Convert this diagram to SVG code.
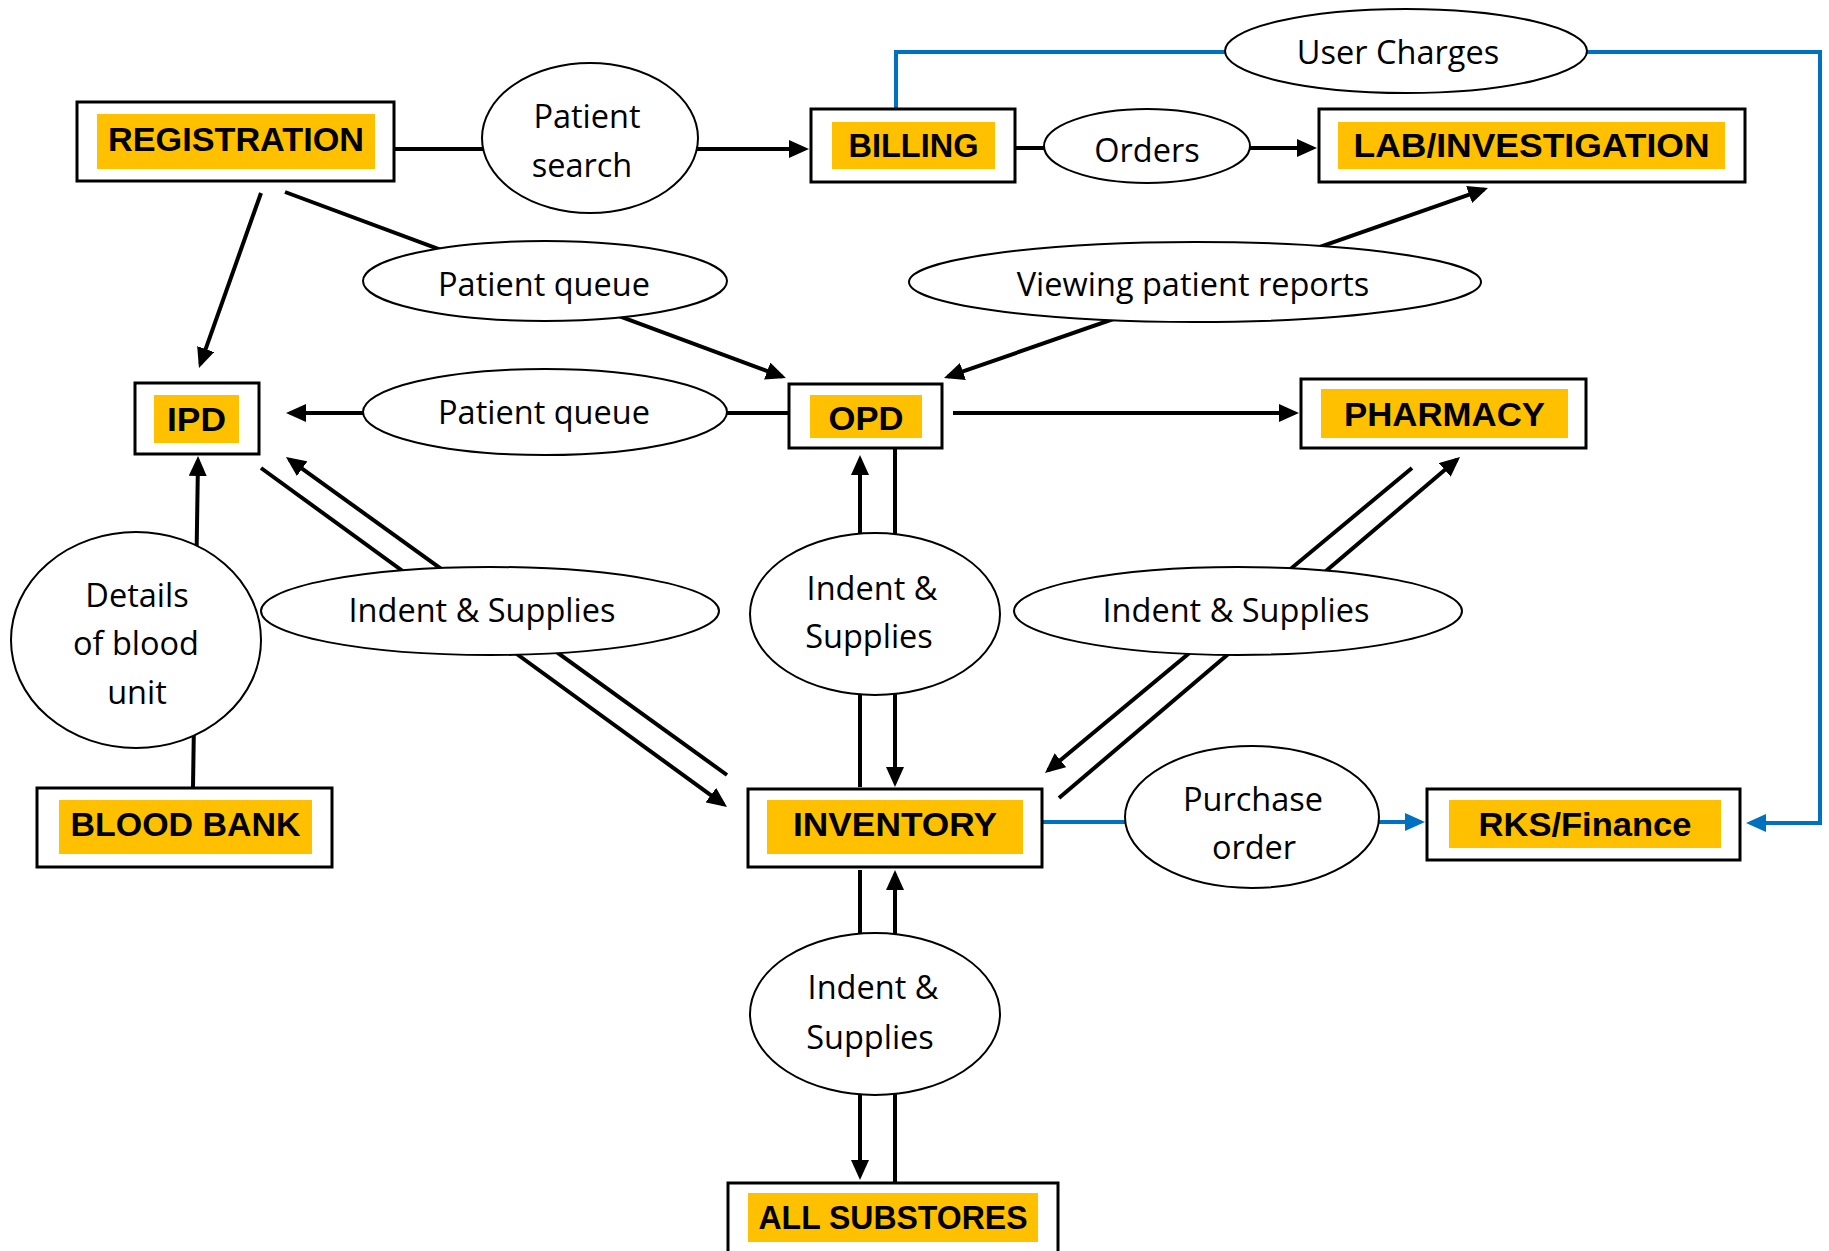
<svg xmlns="http://www.w3.org/2000/svg" width="1829" height="1251" viewBox="0 0 1829 1251">
<style>
.box{fill:#fff;stroke:#000;stroke-width:3}
.hl{fill:#FFC000}
.bt{font-family:"Liberation Sans",Arial,sans-serif;font-weight:bold;font-size:33px;fill:#000;text-anchor:middle}
.el{fill:#fff;stroke:#000;stroke-width:2}
.lt{font-family:"Open Sans","DejaVu Sans",sans-serif;font-size:32.5px;fill:#000;text-anchor:middle}
.c{stroke:#000;stroke-width:4;fill:none}
.b{stroke:#0070C0;stroke-width:4;fill:none}
</style>
<defs>
<marker id="ak" markerUnits="userSpaceOnUse" markerWidth="20" markerHeight="18" viewBox="0 0 20 18" refX="16" refY="9" orient="auto"><path d="M0,0L20,9L0,18z" fill="#000"/></marker>
<marker id="ab" markerUnits="userSpaceOnUse" markerWidth="20" markerHeight="18" viewBox="0 0 20 18" refX="16" refY="9" orient="auto"><path d="M0,0L20,9L0,18z" fill="#0070C0"/></marker>
</defs>
<rect width="1829" height="1251" fill="#fff"/>
<g id="connectors">
<line class="c" x1="395" y1="149" x2="805" y2="149" marker-end="url(#ak)"/>
<line class="c" x1="1016" y1="148" x2="1313" y2="148" marker-end="url(#ak)"/>
<line class="c" x1="261" y1="193" x2="200.3" y2="364.2" marker-end="url(#ak)"/>
<line class="c" x1="285" y1="192" x2="782.2" y2="376.6" marker-end="url(#ak)"/>
<line class="c" x1="1217" y1="283" x2="1484.2" y2="189.3" marker-end="url(#ak)"/>
<line class="c" x1="1217" y1="283" x2="947.8" y2="376.7" marker-end="url(#ak)"/>
<line class="c" x1="788" y1="413" x2="290" y2="413" marker-end="url(#ak)"/>
<line class="c" x1="953" y1="413" x2="1295" y2="413" marker-end="url(#ak)"/>
<line class="c" x1="193" y1="787" x2="198" y2="460" marker-end="url(#ak)"/>
<line class="c" x1="261" y1="468" x2="723.8" y2="804.6" marker-end="url(#ak)"/>
<line class="c" x1="727" y1="775" x2="289.2" y2="459.3" marker-end="url(#ak)"/>
<line class="c" x1="860" y1="787" x2="860" y2="459" marker-end="url(#ak)"/>
<line class="c" x1="895" y1="449" x2="895" y2="783" marker-end="url(#ak)"/>
<line class="c" x1="860" y1="870" x2="860" y2="1176" marker-end="url(#ak)"/>
<line class="c" x1="895" y1="1182" x2="895" y2="874" marker-end="url(#ak)"/>
<line class="c" x1="1059" y1="798" x2="1457" y2="459.6" marker-end="url(#ak)"/>
<line class="c" x1="1412" y1="468" x2="1048.1" y2="770.4" marker-end="url(#ak)"/>
<polyline class="b" points="896,108 896,52 1820,52 1820,823 1750,823" marker-end="url(#ab)"/>
<line class="b" x1="1043" y1="822" x2="1421" y2="822" marker-end="url(#ab)"/>
</g>
<g id="registration"><rect class="box" x="77" y="102" width="317" height="79"/><rect class="hl" x="97" y="114" width="278" height="55"/><text class="bt" x="236" y="151" textLength="256" lengthAdjust="spacingAndGlyphs">REGISTRATION</text></g>
<g id="billing"><rect class="box" x="811" y="109" width="204" height="73"/><rect class="hl" x="832" y="122" width="163" height="47"/><text class="bt" x="913.5" y="157" textLength="130" lengthAdjust="spacingAndGlyphs">BILLING</text></g>
<g id="lab"><rect class="box" x="1319" y="109" width="426" height="73"/><rect class="hl" x="1338" y="122" width="387" height="47"/><text class="bt" x="1531.5" y="157" textLength="356" lengthAdjust="spacingAndGlyphs">LAB/INVESTIGATION</text></g>
<g id="ipd"><rect class="box" x="135" y="383" width="124" height="71"/><rect class="hl" x="154" y="395" width="85" height="48"/><text class="bt" x="196.5" y="431" textLength="59" lengthAdjust="spacingAndGlyphs">IPD</text></g>
<g id="opd"><rect class="box" x="789" y="384" width="153" height="64"/><rect class="hl" x="810" y="395" width="112" height="43"/><text class="bt" x="866" y="430" textLength="75" lengthAdjust="spacingAndGlyphs">OPD</text></g>
<g id="pharmacy"><rect class="box" x="1301" y="379" width="285" height="69"/><rect class="hl" x="1321" y="389" width="247" height="49"/><text class="bt" x="1444.5" y="426" textLength="201" lengthAdjust="spacingAndGlyphs">PHARMACY</text></g>
<g id="bloodbank"><rect class="box" x="37" y="788" width="295" height="79"/><rect class="hl" x="59" y="800" width="253" height="54"/><text class="bt" x="185.5" y="836" textLength="230" lengthAdjust="spacingAndGlyphs">BLOOD BANK</text></g>
<g id="inventory"><rect class="box" x="748" y="789" width="294" height="78"/><rect class="hl" x="767" y="800" width="256" height="54"/><text class="bt" x="895" y="836" textLength="204" lengthAdjust="spacingAndGlyphs">INVENTORY</text></g>
<g id="rks"><rect class="box" x="1427" y="789" width="313" height="71"/><rect class="hl" x="1449" y="800" width="272" height="48"/><text class="bt" x="1585" y="836" textLength="213" lengthAdjust="spacingAndGlyphs">RKS/Finance</text></g>
<g id="substores"><rect class="box" x="728" y="1183" width="330" height="70"/><rect class="hl" x="748" y="1193" width="290" height="49"/><text class="bt" x="893" y="1229" textLength="269" lengthAdjust="spacingAndGlyphs">ALL SUBSTORES</text></g>
<g id="patient-search"><ellipse class="el" cx="590" cy="138" rx="108" ry="75"/><text class="lt" x="587" y="128">Patient</text><text class="lt" x="582" y="177">search</text></g>
<g id="user-charges"><ellipse class="el" cx="1406" cy="51" rx="181" ry="42"/><text class="lt" x="1398" y="64">User Charges</text></g>
<g id="orders"><ellipse class="el" cx="1147" cy="146" rx="103" ry="37"/><text class="lt" x="1147" y="162">Orders</text></g>
<g id="patient-queue-1"><ellipse class="el" cx="545" cy="281" rx="182" ry="40"/><text class="lt" x="544" y="296">Patient queue</text></g>
<g id="viewing-reports"><ellipse class="el" cx="1195" cy="282" rx="286" ry="40"/><text class="lt" x="1193" y="296">Viewing patient reports</text></g>
<g id="patient-queue-2"><ellipse class="el" cx="545" cy="412" rx="182" ry="43"/><text class="lt" x="544" y="424">Patient queue</text></g>
<g id="blood-details"><ellipse class="el" cx="136" cy="640" rx="125" ry="108"/><text class="lt" x="137" y="607">Details</text><text class="lt" x="136" y="655">of blood</text><text class="lt" x="137" y="704">unit</text></g>
<g id="indent-ipd"><ellipse class="el" cx="490" cy="611" rx="229" ry="44"/><text class="lt" x="482" y="622">Indent &amp; Supplies</text></g>
<g id="indent-opd"><ellipse class="el" cx="875" cy="614" rx="125" ry="81"/><text class="lt" x="872" y="600">Indent &amp;</text><text class="lt" x="869" y="648">Supplies</text></g>
<g id="indent-pharmacy"><ellipse class="el" cx="1238" cy="611" rx="224" ry="44"/><text class="lt" x="1236" y="622">Indent &amp; Supplies</text></g>
<g id="purchase-order"><ellipse class="el" cx="1252" cy="817" rx="127" ry="71"/><text class="lt" x="1253" y="811">Purchase</text><text class="lt" x="1254" y="859">order</text></g>
<g id="indent-substores"><ellipse class="el" cx="875" cy="1014" rx="125" ry="81"/><text class="lt" x="873" y="999">Indent &amp;</text><text class="lt" x="870" y="1049">Supplies</text></g>
</svg>
